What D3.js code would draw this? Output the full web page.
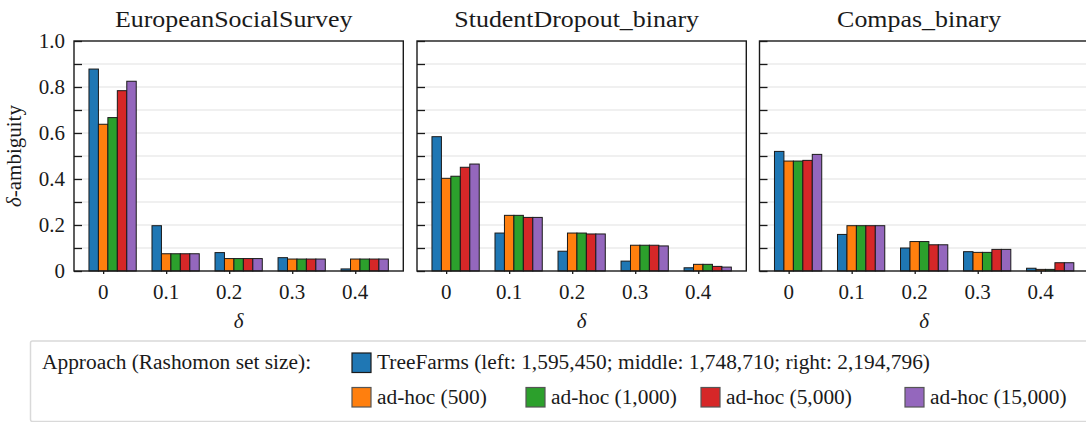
<!DOCTYPE html>
<html><head><meta charset="utf-8">
<script src="https://cdn.jsdelivr.net/npm/d3@7"></script>
<style>
body{margin:0;background:#fff}
svg text, svg tspan{font-family:"Liberation Serif" !important}
</style>
</head><body>
<svg id="chart" width="1086" height="422"></svg>
<script>
// ---------------- data ----------------
const datasets = ["EuropeanSocialSurvey", "StudentDropout_binary", "Compas_binary"];
const deltas = [0, 0.1, 0.2, 0.3, 0.4];
const deltaLabels = ["0", "0.1", "0.2", "0.3", "0.4"];
const yTicks = [0, 0.1, 0.2, 0.3, 0.4, 0.5, 0.6, 0.7, 0.8, 0.9, 1.0];
const yTickLabels = ["0", "", "0.2", "", "0.4", "", "0.6", "", "0.8", "", "1.0"];
const approaches = ["TreeFarms", "ad-hoc (500)", "ad-hoc (1,000)", "ad-hoc (5,000)", "ad-hoc (15,000)"];
const legendLabels = [
  "TreeFarms (left: 1,595,450; middle: 1,748,710; right: 2,194,796)",
  "ad-hoc (500)", "ad-hoc (1,000)", "ad-hoc (5,000)", "ad-hoc (15,000)"];
const colors = ["#1f77b4", "#ff7f0e", "#2ca02c", "#d62728", "#9467bd"];
// rows: approaches, columns: deltas
const essValues = [
  [0.878, 0.197, 0.080, 0.058, 0.009],
  [0.638, 0.075, 0.054, 0.052, 0.052],
  [0.667, 0.075, 0.054, 0.052, 0.052],
  [0.784, 0.075, 0.054, 0.052, 0.052],
  [0.825, 0.075, 0.054, 0.052, 0.052]];
const dropoutValues = [
  [0.584, 0.165, 0.086, 0.043, 0.014],
  [0.403, 0.242, 0.165, 0.112, 0.029],
  [0.412, 0.242, 0.165, 0.112, 0.029],
  [0.451, 0.233, 0.161, 0.112, 0.020],
  [0.465, 0.233, 0.161, 0.109, 0.017]];
const compasValues = [
  [0.520, 0.159, 0.100, 0.084, 0.012],
  [0.478, 0.197, 0.128, 0.081, 0.007],
  [0.478, 0.197, 0.128, 0.081, 0.007],
  [0.481, 0.197, 0.114, 0.094, 0.036],
  [0.507, 0.197, 0.114, 0.094, 0.036]];
const allValues = [essValues, dropoutValues, compasValues];
const barWidth = 0.015;

// ---------------- layout ----------------
const svg = d3.select("#chart");
const FONT = "Liberation Serif";
const panelLefts = [74, 417, 759.5];
const panelW = 329.3;
const plotTop = 41, plotBottom = 271;
// text placed at (x,y) and widened horizontally by sx (Computer Modern is wider than Times)
function txt(parent, size, x, y, sx) {
  return parent.append("text")
    .attr("transform", `translate(${x},${y}) scale(${sx || 1},1)`)
    .attr("font-family", FONT).style("font-family", FONT, "important")
    .attr("font-size", size).attr("fill", "#1a1a1a");
}

const y = d3.scaleLinear().domain([0, 1]).range([plotBottom, plotTop]);

datasets.forEach((name, p) => {
  const x0 = panelLefts[p];
  const x = d3.scaleLinear().domain([-0.04625, 0.47625]).range([x0, x0 + panelW]);
  const g = svg.append("g");

  // grid
  g.selectAll("line.grid").data(yTicks.slice(1, -1)).join("line")
    .attr("x1", x0).attr("x2", x0 + panelW)
    .attr("y1", d => y(d)).attr("y2", d => y(d))
    .attr("stroke", "#ebebeb").attr("stroke-width", 1.5);

  // bars
  const vals = allValues[p];
  approaches.forEach((a, i) => {
    g.append("g").selectAll("rect").data(deltas.map((d, j) => ({d, v: vals[i][j]}))).join("rect")
      .attr("x", e => x(e.d + (i - 1) * barWidth - barWidth / 2))
      .attr("width", x(barWidth) - x(0))
      .attr("y", e => y(e.v))
      .attr("height", e => y(0) - y(e.v))
      .attr("fill", colors[i])
      .attr("stroke", "#1a1a1a").attr("stroke-width", 1);
  });

  // y ticks (inward)
  const yAxis = d3.axisRight(y).tickValues(yTicks).tickSize(8).tickFormat("");
  const ya = g.append("g").attr("transform", `translate(${x0},0)`).call(yAxis);
  ya.select(".domain").remove();
  ya.selectAll("line").attr("stroke", "#1a1a1a").attr("stroke-width", 1.3);

  // x ticks (outward, short)
  const xAxis = d3.axisBottom(x).tickValues(deltas).tickSize(3).tickFormat("");
  const xa = g.append("g").attr("transform", `translate(0,${plotBottom})`).call(xAxis);
  xa.select(".domain").remove();
  xa.selectAll("line").attr("stroke", "#1a1a1a").attr("stroke-width", 1.3);

  // frame
  g.append("rect").attr("x", x0).attr("y", plotTop).attr("width", panelW).attr("height", plotBottom - plotTop)
    .attr("fill", "none").attr("stroke", "#1a1a1a").attr("stroke-width", 1.4);

  // x tick labels
  deltas.forEach((d, j) => {
    txt(g, 20, x(d), 299, 1.05).attr("text-anchor", "middle").text(deltaLabels[j]);
  });

  // y tick labels (first panel only)
  if (p === 0) {
    yTicks.forEach((d, j) => {
      if (!yTickLabels[j]) return;
      txt(g, 20, x0 - 9, y(d) + 7, 1.05).attr("text-anchor", "end").text(yTickLabels[j]);
    });
  }

  // x label
  txt(g, 21, x0 + panelW / 2, 328, 1).attr("text-anchor", "middle")
    .attr("font-style", "italic").text("δ");

  // title
  txt(g, 24, x0 + panelW / 2 - 5, 27, 1.08).attr("text-anchor", "middle").text(name);
});

// y label
const yl = svg.append("text")
  .attr("transform", `translate(21,${(plotTop + plotBottom) / 2}) rotate(-90) scale(1.05,1)`)
  .attr("font-family", FONT).style("font-family", FONT, "important")
  .attr("font-size", 20).attr("fill", "#1a1a1a")
  .attr("text-anchor", "middle");
yl.append("tspan").attr("font-style", "italic").text("δ");
yl.append("tspan").text("-ambiguity");

// legend
const lg = svg.append("g");
lg.append("rect").attr("x", 30.5).attr("y", 341).attr("width", 1070).attr("height", 80.5).attr("rx", 2)
  .attr("fill", "#fff").attr("stroke", "#d9d9d9").attr("stroke-width", 1.5);
txt(lg, 20, 42, 369, 1.07).text("Approach (Rashomon set size):");
const legendPos = [[352, 353], [352, 387.5], [526, 387.5], [701, 387.5], [905, 387.5]];
legendLabels.forEach((lab, i) => {
  const [lx, ly] = legendPos[i];
  lg.append("rect").attr("x", lx).attr("y", ly).attr("width", 19).attr("height", 19.5)
    .attr("fill", colors[i]).attr("stroke", i === 0 ? "#1a1a1a" : "#555").attr("stroke-width", 1.2);
  txt(lg, 20, lx + 25, ly + 16, 1.07).text(lab);
});
</script>
</body></html>
